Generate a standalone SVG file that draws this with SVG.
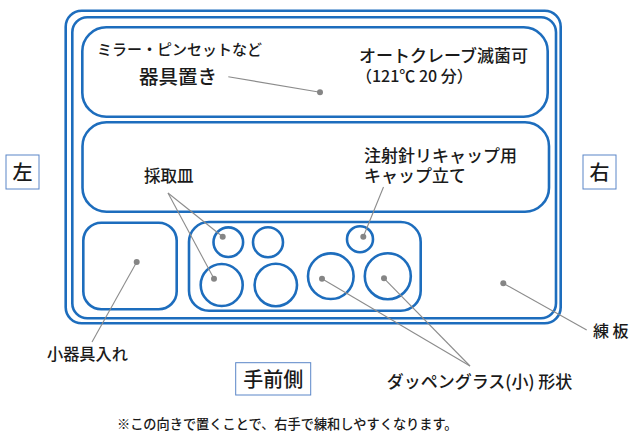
<svg xmlns="http://www.w3.org/2000/svg" width="644" height="439" viewBox="0 0 644 439">
<style>
.tray{fill:none;stroke:#1d6dbd;stroke-width:2.6}
.lbl{font-family:"Noto Sans CJK JP","Noto Sans",sans-serif;fill:#1a1a1a;font-weight:500}
.tag{fill:#fff;stroke:#5a86c8;stroke-width:1}
.conn line{stroke:#8c8c8c;stroke-width:1.1}
</style>
<defs>
<marker id="dot" markerWidth="8" markerHeight="8" refX="4" refY="4" markerUnits="userSpaceOnUse">
<circle cx="4" cy="4" r="3" fill="#858585"/>
</marker>
</defs>
<rect width="644" height="439" fill="#fff"/>
<g id="board">
<rect class="tray" x="65.7" y="10.7" width="495" height="312.6" rx="16"/>
<rect class="tray" x="72.3" y="17.3" width="483.7" height="301" rx="15"/>
</g>
<g id="instrument-rest"><rect class="tray" x="82.3" y="27.3" width="465.4" height="89.4" rx="24"/></g>
<g id="cap-stand"><rect class="tray" x="82.5" y="122.3" width="466.5" height="89.4" rx="24"/></g>
<g id="small-box"><rect class="tray" x="83.3" y="222.7" width="93.4" height="86.6" rx="18"/></g>
<g id="dish-tray">
<rect class="tray" x="189" y="222" width="231.7" height="88.7" rx="20"/>
<circle class="tray" cx="228.3" cy="242.2" r="14.8"/>
<circle class="tray" cx="268" cy="242.2" r="15"/>
<circle class="tray" cx="221.7" cy="285" r="21"/>
<circle class="tray" cx="275.8" cy="285" r="21.2"/>
<circle class="tray" cx="330.8" cy="276.2" r="22.8"/>
<circle class="tray" cx="387.8" cy="276.2" r="23"/>
<circle class="tray" cx="360" cy="239.2" r="13"/>
</g>
<g class="conn" id="connectors">
<line x1="320" y1="92.3" x2="228.3" y2="76.7" marker-start="url(#dot)"/>
<line x1="222.7" y1="236.7" x2="168" y2="193" marker-start="url(#dot)"/>
<line x1="214" y1="278.7" x2="168" y2="193" marker-start="url(#dot)"/>
<line x1="363.3" y1="236.7" x2="383.5" y2="187" marker-start="url(#dot)"/>
<line x1="136.7" y1="262" x2="92" y2="342" marker-start="url(#dot)"/>
<line x1="503.3" y1="283.3" x2="586.7" y2="330" marker-start="url(#dot)"/>
<line x1="322" y1="278.7" x2="470" y2="366" marker-start="url(#dot)"/>
<line x1="384" y1="278.3" x2="470" y2="366" marker-start="url(#dot)"/>
</g>
<g id="labels">
<text class="lbl" x="97" y="55" font-size="15">ミラー・ピンセットなど</text>
<text class="lbl" x="139" y="83.5" font-size="19.5">器具置き</text>
<text class="lbl" x="359" y="61.5" font-size="17">オートクレーブ滅菌可</text>
<text class="lbl" x="356" y="81.5" font-size="16">（121℃ 20 分）</text>
<text class="lbl" x="364" y="161.5" font-size="17">注射針リキャップ用</text>
<text class="lbl" x="364" y="182" font-size="17">キャップ立て</text>
<text class="lbl" x="144" y="182" font-size="16.5">採取皿</text>
<text class="lbl" x="47" y="359.5" font-size="16.2">小器具入れ</text>
<text class="lbl" x="593" y="337" font-size="16">練 板</text>
<text class="lbl" x="386.7" y="388" font-size="17">ダッペングラス(小) 形状</text>
<text class="lbl" x="117" y="429" font-size="13.2">※この向きで置くことで、右手で練和しやすくなります。</text>
</g>
<g id="left-tag">
<rect class="tag" x="6" y="155" width="33" height="34"/>
<text class="lbl" x="22.5" y="179.5" font-size="20" text-anchor="middle">左</text>
</g>
<g id="right-tag">
<rect class="tag" x="583" y="155" width="33" height="34"/>
<text class="lbl" x="599.5" y="179.5" font-size="20" text-anchor="middle">右</text>
</g>
<g id="front-tag">
<rect class="tag" x="235.7" y="362.7" width="75" height="32.3"/>
<text class="lbl" x="273.2" y="386.5" font-size="20" text-anchor="middle">手前側</text>
</g>
</svg>
